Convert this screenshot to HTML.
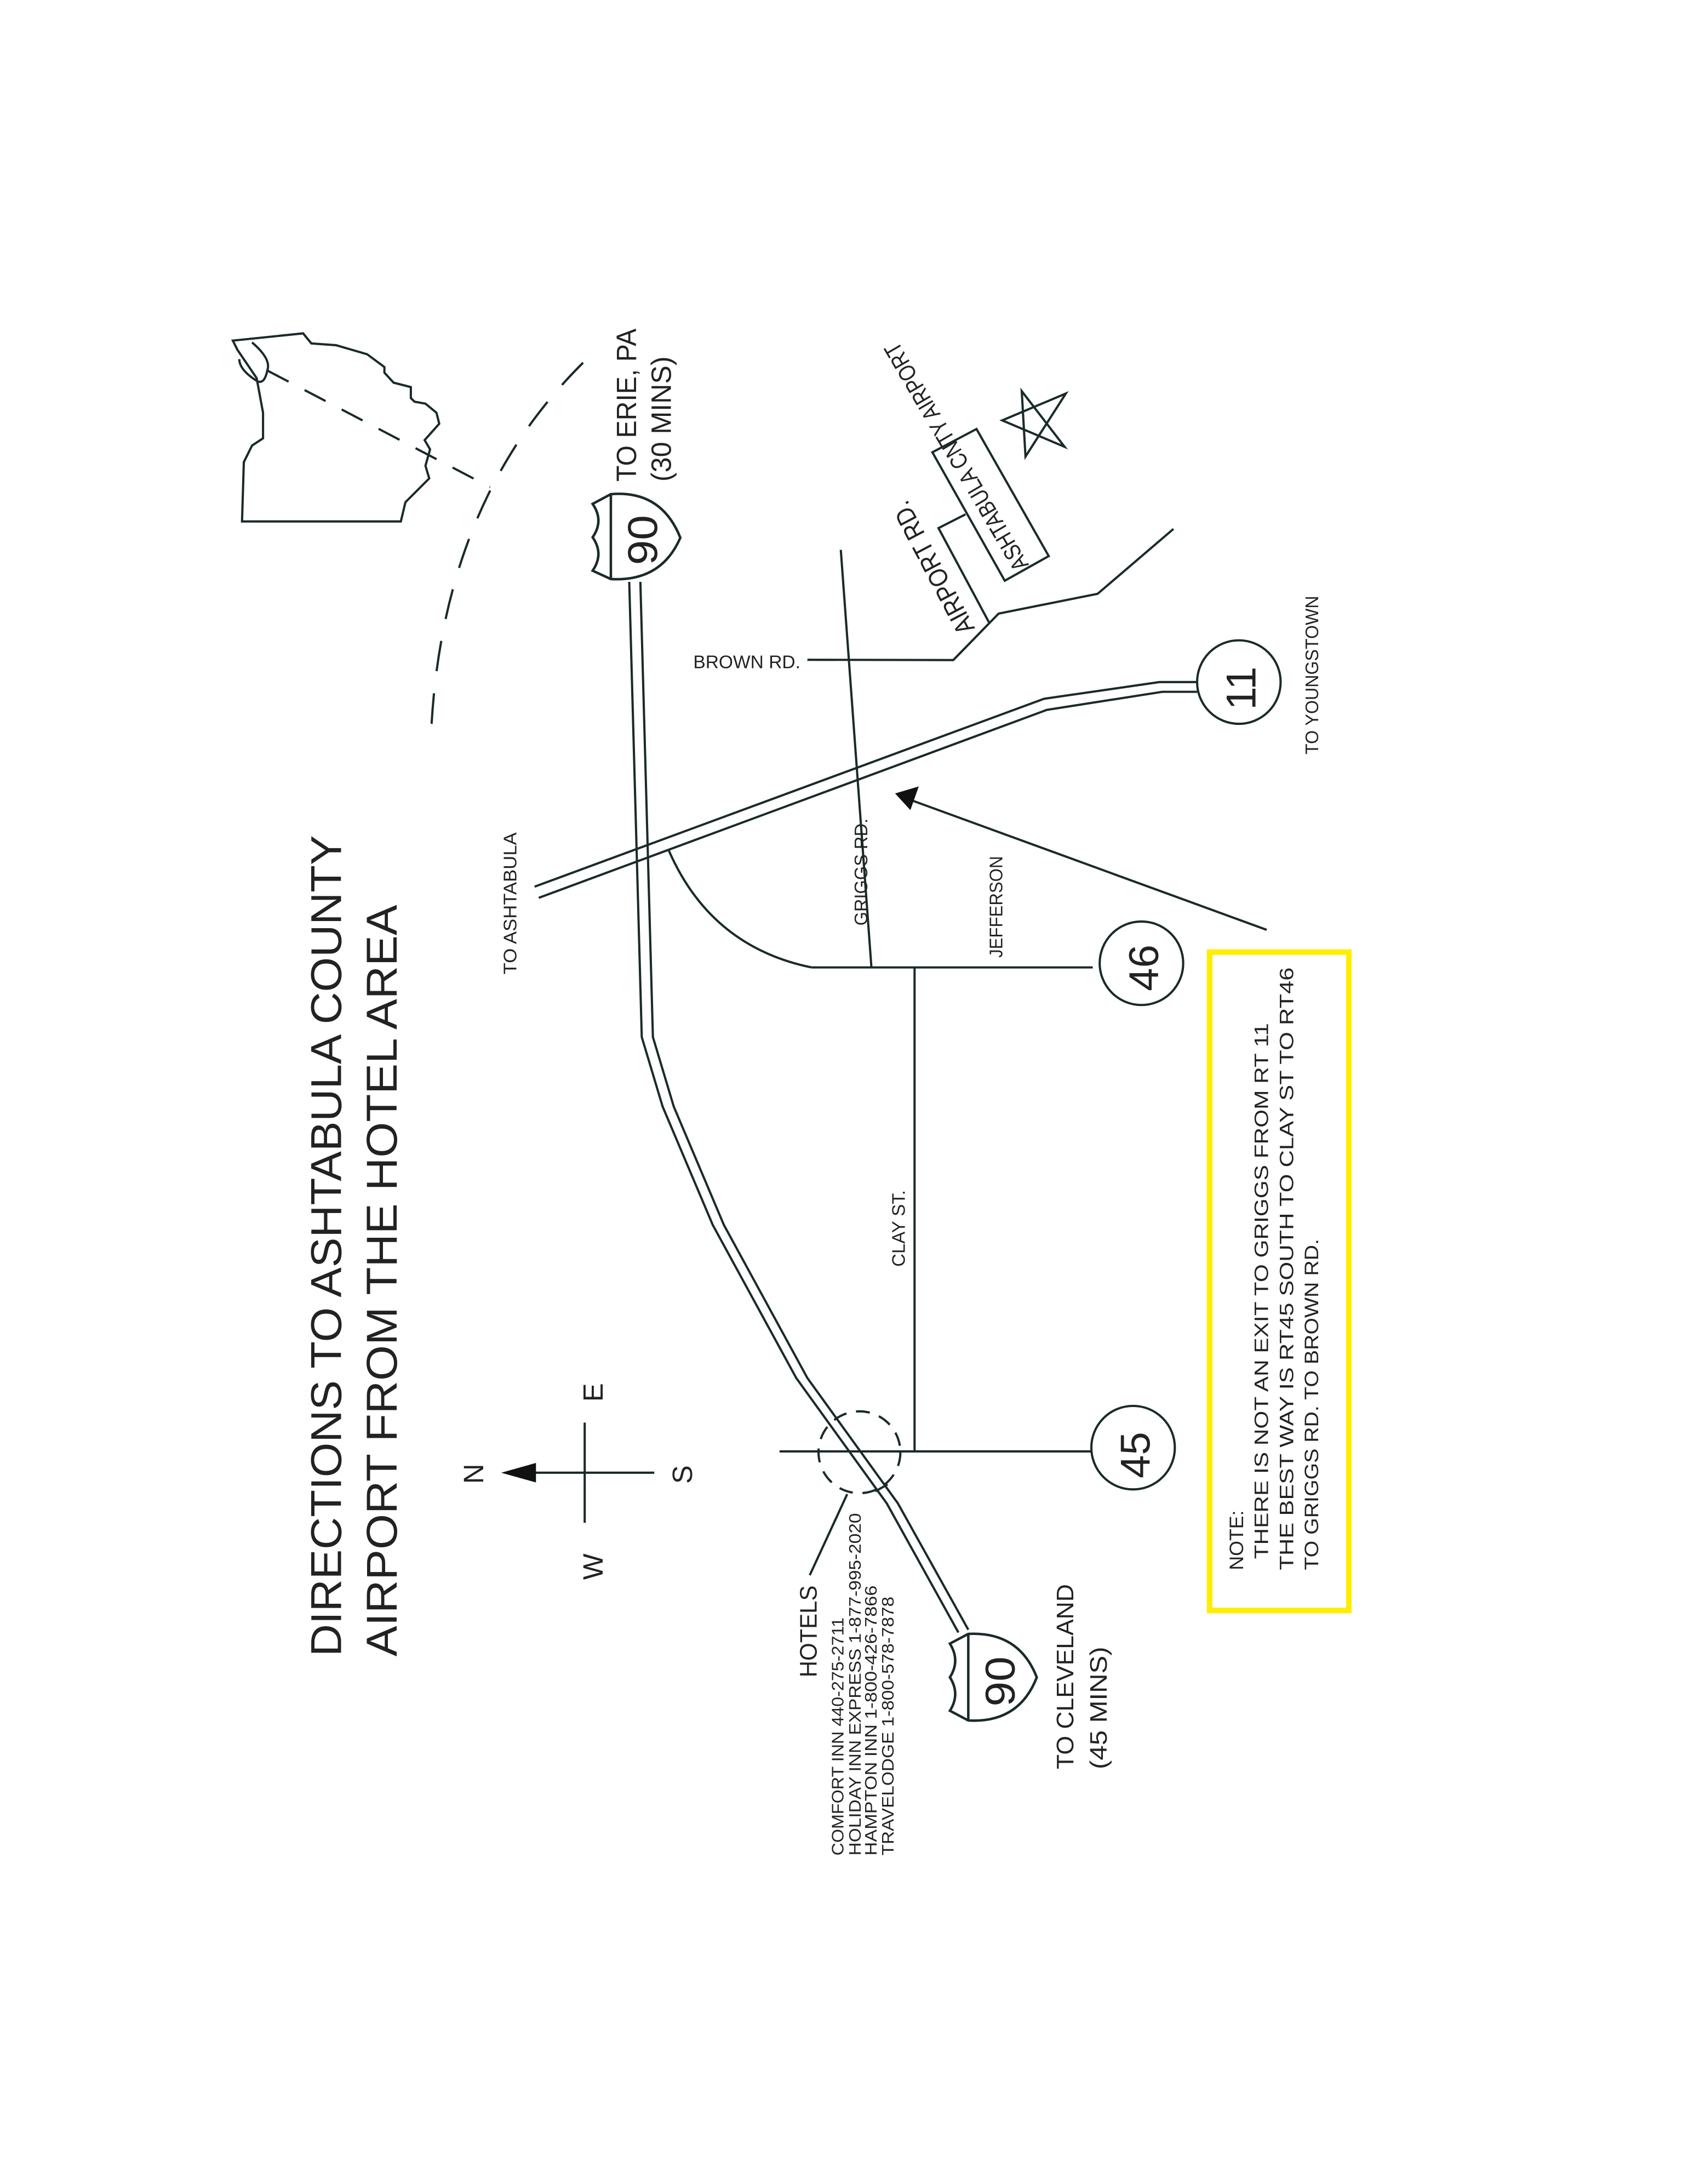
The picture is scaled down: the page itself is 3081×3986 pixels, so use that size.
<!DOCTYPE html>
<html><head><meta charset="utf-8"><style>
html,body{margin:0;padding:0;background:#fff;}
svg{display:block;}
text{font-family:"Liberation Sans",sans-serif;fill:#222;}
</style></head><body>
<svg width="3081" height="3986" viewBox="0 0 1212.6 1569" xmlns="http://www.w3.org/2000/svg">
<rect width="1212.6" height="1569" fill="#fff"/>
<g fill="none" stroke="#1a2a2a" stroke-width="1.6">
<!-- Ohio outline -->
<path d="M167.2,244.7 L217.7,239.5 L223.6,246.7 L241.4,248 L263.7,254.5 L276.1,263.7 L276.1,267.7 L282.7,274.9 L295.1,278.1 L295.1,286 L297.8,288.6 L305.6,290 L313.5,296.5 L315.5,304.4 L305,316.2 L308.9,322.8 L305.6,334.6 L308.3,343.7 L291.2,360.8 L287.9,374.6 L173.8,374.6 L175.1,332 L181,320.1 L188.9,314.9 L188.9,296.5 L184.3,271.6 L170.5,251.3 Z"/>
<path d="M181,246 Q195,258 192,266 Q190,276 185,274 Q172,266 171.8,258"/>
<path d="M192.2,266.3 L352,350" stroke-dasharray="17,13"/>
<!-- dashed arc -->
<path d="M310,520 Q320,350 430,250" stroke-dasharray="22,16"/>
<!-- I-90 -->
<path d="M452,418 L461,745 L476,795 L512,880 L572,990 L637,1080 L688.5,1172.8"/>
<path d="M460,418 L469,745 L484,795 L520,880 L580,990 L645,1080 L695.6,1170.8"/>
<path d="M628.8,1071.4 L637.6,1066.4"/>
<!-- RT11 -->
<path d="M384,637 L750,502 L833,490 L860,490"/>
<path d="M387,645 L752,510 L835,497 L860,497"/>
<circle cx="890" cy="490" r="30"/>
<!-- Griggs -->
<path d="M604,395 L626,695"/>
<!-- Brown Rd / airport road -->
<path d="M580,474 L684.8,474.2 L717.4,440.8 L788.5,426.6 L843,380"/>
<path d="M710.4,447 L674.2,379.4 L693.6,369.5"/>
<!-- airport box -->
<path d="M669.8,324.9 L701.5,308.2 L753.4,399.5 L721.8,417.2 Z"/>
<!-- star -->
<path d="M734,281 L764.8,321 L720,302 L765.7,282.7 L736.7,328 Z"/>
<!-- curve -->
<path d="M480,610 Q510,680 583,695"/>
<path d="M583,695 L785,695"/>
<circle cx="820" cy="692" r="30"/>
<!-- Clay st -->
<path d="M657,695 L657,1042.7"/>
<path d="M560,1042.7 L784,1042.7"/>
<circle cx="814" cy="1040" r="30"/>
<circle cx="617.4" cy="1043.3" r="29.4" stroke-dasharray="10,7"/>
<!-- hotels leader -->
<path d="M581.7,1131.6 L608.6,1073.4"/>
<!-- arrow -->
<path d="M910,668 L655,575"/>
<!-- compass -->
<path d="M380,1058 L470,1058"/>
<path d="M420,1022 L420,1094"/>
</g>
<polygon points="643,570 660,565 654,582" fill="#111"/>
<polygon points="360,1058 385,1051 385,1065" fill="#111"/>
<!-- shields -->
<g fill="#fff" stroke="#1a2a2a" stroke-width="1.8">
<path d="M425.7,362 L438.8,355 Q475,352 488.7,386.3 Q475,418 438.8,416 L425.7,410 Q434,398 425.7,386 Q434,374 425.7,362 Z"/>
<path d="M438.8,355 L438.8,416"/>
<path d="M682.4,1180.8 L695.6,1173.8 Q732,1172 744.8,1205 Q732,1238 695.6,1236 L682.4,1229 Q690,1217 682.4,1205 Q690,1193 682.4,1180.8 Z"/>
<path d="M695.6,1173.8 L695.6,1236"/>
</g>
<g font-size="30">
<text transform="translate(472,406) rotate(-90)" textLength="36" lengthAdjust="spacingAndGlyphs">90</text>
<text transform="translate(729,1226) rotate(-90)" textLength="36" lengthAdjust="spacingAndGlyphs">90</text>
<text transform="translate(902,510) rotate(-90)">11</text>
<text transform="translate(832,712) rotate(-90)">46</text>
<text transform="translate(826,1062) rotate(-90)">45</text>
</g>
<g font-size="31" fill="#333">
<text transform="translate(245,1190) rotate(-90)" textLength="590" lengthAdjust="spacingAndGlyphs">DIRECTIONS TO ASHTABULA COUNTY</text>
<text transform="translate(285,1190) rotate(-90)" textLength="540" lengthAdjust="spacingAndGlyphs">AIRPORT FROM THE HOTEL AREA</text>
</g>
<g font-size="20">
<text transform="translate(347,1066) rotate(-90)">N</text>
<text transform="translate(497,1066) rotate(-90)">S</text>
<text transform="translate(433,1135) rotate(-90)">W</text>
<text transform="translate(433,1007) rotate(-90)">E</text>
<text transform="translate(457,346) rotate(-90)" textLength="110" lengthAdjust="spacingAndGlyphs">TO ERIE, PA</text>
<text transform="translate(482,346) rotate(-90)" textLength="90" lengthAdjust="spacingAndGlyphs">(30 MINS)</text>
</g>
<g font-size="17">
<text transform="translate(771,1271) rotate(-90)" textLength="133" lengthAdjust="spacingAndGlyphs">TO CLEVELAND</text>
<text transform="translate(795,1271) rotate(-90)" textLength="88" lengthAdjust="spacingAndGlyphs">(45 MINS)</text>
<text transform="translate(586.6,1205) rotate(-90)" textLength="66" lengthAdjust="spacingAndGlyphs">HOTELS</text>
<text transform="translate(700.5,451.4) rotate(-117.8)" font-size="19" textLength="105" lengthAdjust="spacingAndGlyphs">AIRPORT RD.</text>
<text transform="translate(739.3,405.8) rotate(-120.4)" textLength="187" lengthAdjust="spacingAndGlyphs">ASHTABULA CNTY AIRPORT</text>
</g>
<g font-size="13">
<text x="498" y="480" textLength="77" lengthAdjust="spacingAndGlyphs">BROWN RD.</text>
<text transform="translate(371,700) rotate(-90)" textLength="102" lengthAdjust="spacingAndGlyphs">TO ASHTABULA</text>
<text transform="translate(947,542) rotate(-90)" textLength="114" lengthAdjust="spacingAndGlyphs">TO YOUNGSTOWN</text>
<text transform="translate(623,665) rotate(-90)" textLength="77" lengthAdjust="spacingAndGlyphs">GRIGGS RD.</text>
<text transform="translate(720,688) rotate(-90)" textLength="73" lengthAdjust="spacingAndGlyphs">JEFFERSON</text>
<text transform="translate(650,910) rotate(-90)" textLength="55" lengthAdjust="spacingAndGlyphs">CLAY ST.</text>
</g>
<g font-size="12">
<text transform="translate(606,1333) rotate(-90)" textLength="171" lengthAdjust="spacingAndGlyphs">COMFORT INN 440-275-2711</text>
<text transform="translate(618.3,1333) rotate(-90)" textLength="246" lengthAdjust="spacingAndGlyphs">HOLIDAY INN EXPRESS 1-877-995-2020</text>
<text transform="translate(629.7,1333) rotate(-90)" textLength="194" lengthAdjust="spacingAndGlyphs">HAMPTON INN 1-800-426-7866</text>
<text transform="translate(642,1333) rotate(-90)" textLength="186" lengthAdjust="spacingAndGlyphs">TRAVELODGE 1-800-578-7878</text>
</g>
<rect x="869" y="684" width="100" height="473" fill="none" stroke="#ffee00" stroke-width="4"/>
<g font-size="14">
<text transform="translate(893,1128) rotate(-90)" textLength="43" lengthAdjust="spacingAndGlyphs">NOTE:</text>
<text transform="translate(911,1120) rotate(-90)" textLength="385" lengthAdjust="spacingAndGlyphs">THERE IS NOT AN EXIT TO GRIGGS FROM RT 11</text>
<text transform="translate(929,1128) rotate(-90)" textLength="433" lengthAdjust="spacingAndGlyphs">THE BEST WAY IS RT45 SOUTH TO CLAY ST TO RT46</text>
<text transform="translate(947,1128) rotate(-90)" textLength="238" lengthAdjust="spacingAndGlyphs">TO GRIGGS RD. TO BROWN RD.</text>
</g>
</svg>
</body></html>
